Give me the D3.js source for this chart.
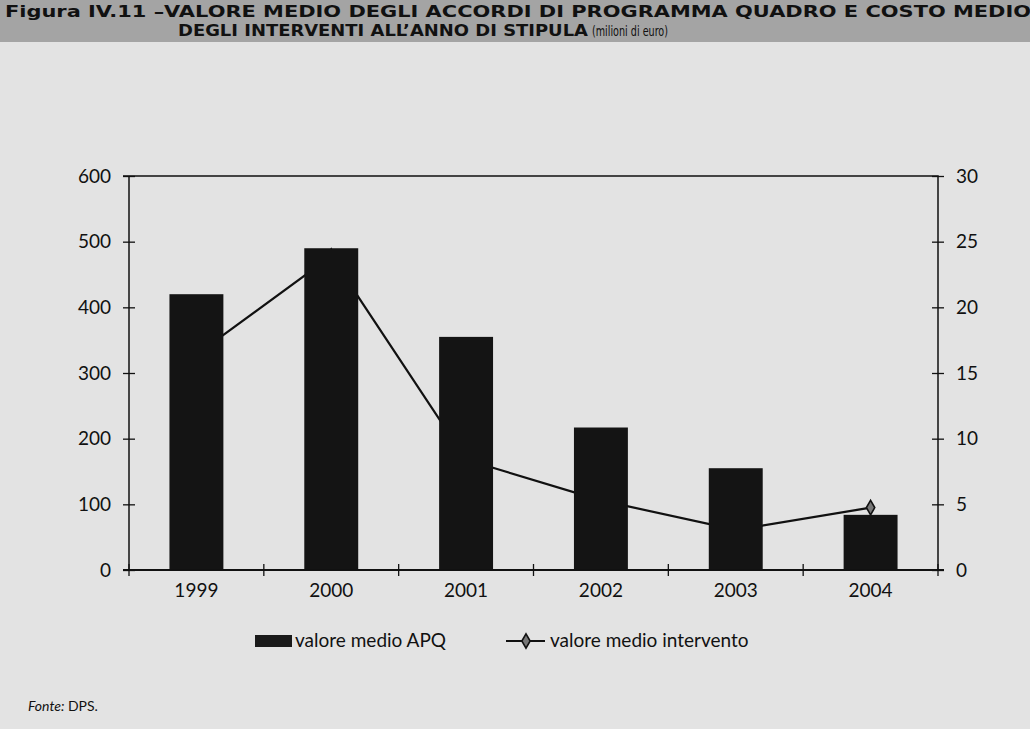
<!DOCTYPE html>
<html>
<head>
<meta charset="utf-8">
<script src="https://cdn.jsdelivr.net/npm/d3@7"></script>
<style>
  html, body { margin: 0; padding: 0; background: #e3e3e3; }
  svg { display: block; }
</style>
</head>
<body>
<svg id="chart" width="1030" height="729"></svg>
<script>
// Valore medio APQ (left axis, milioni di euro) and costo medio intervento (right axis)
const years = ["1999", "2000", "2001", "2002", "2003", "2004"];
const valoreMedioAPQ = [420, 490, 355, 217, 155, 84];
const valoreMedioIntervento = [16.4, 23.9, 8.4, 5.3, 3.05, 4.75];
const leftTicks = [0, 100, 200, 300, 400, 500, 600];
const rightTicks = [0, 5, 10, 15, 20, 25, 30];

const svg = d3.select("#chart");
const W = 1030, H = 729;
const m = { left: 129, right: 938, top: 176, bottom: 570 };
const font = "'Lato', 'Noto Sans', sans-serif";

// page background
svg.append("rect").attr("width", W).attr("height", H).attr("fill", "#e3e3e3");

// title banner
svg.append("rect").attr("x", 0).attr("y", 0).attr("width", W).attr("height", 42).attr("fill", "#a4a4a4");
svg.append("text")
  .attr("x", 5).attr("y", 17)
  .attr("font-family", "'DejaVu Sans', sans-serif").attr("font-weight", "bold")
  .attr("font-size", 15.5).attr("fill", "#111")
  .attr("textLength", 1026).attr("lengthAdjust", "spacingAndGlyphs")
  .text("Figura IV.11 –VALORE MEDIO DEGLI ACCORDI DI PROGRAMMA QUADRO E COSTO MEDIO");
const t2 = svg.append("text")
  .attr("x", 178).attr("y", 36)
  .attr("font-family", "'DejaVu Sans', sans-serif").attr("font-size", 15.5).attr("fill", "#111");
t2.append("tspan").attr("font-weight", "bold")
  .attr("textLength", 410).attr("lengthAdjust", "spacingAndGlyphs")
  .text("DEGLI INTERVENTI ALL’ANNO DI STIPULA");
t2.append("tspan").attr("dx", 4).attr("font-size", 13.5)
  .attr("textLength", 76).attr("lengthAdjust", "spacingAndGlyphs")
  .text("(milioni di euro)");

// scales
const x = d3.scaleBand().domain(years).range([m.left, m.right]).paddingInner(0.6).paddingOuter(0.3);
const xStep = d3.scaleBand().domain(years).range([m.left, m.right]);
const yL = d3.scaleLinear().domain([0, 600]).range([m.bottom, m.top]);
const yR = d3.scaleLinear().domain([0, 30]).range([m.bottom, m.top]);

// plot frame (top and right)
svg.append("path")
  .attr("d", `M${m.left - 6},${m.top}H${m.right}V${m.bottom}`)
  .attr("fill", "none").attr("stroke", "#111").attr("stroke-width", 1.5);

// line series (drawn beneath the bars)
const cx = d => xStep(d) + xStep.bandwidth() / 2;
const line = d3.line().x((d, i) => cx(years[i])).y(d => yR(d));
svg.append("path").datum(valoreMedioIntervento)
  .attr("d", line).attr("fill", "none").attr("stroke", "#111").attr("stroke-width", 2.2);
const diamond = d3.symbol().type(d3.symbolDiamond).size(60);
svg.selectAll(".mk").data(valoreMedioIntervento).join("path")
  .attr("transform", (d, i) => `translate(${cx(years[i])},${yR(d)})`)
  .attr("d", diamond).attr("fill", "#777").attr("stroke", "#111").attr("stroke-width", 1.6);

// bars
svg.selectAll(".bar").data(valoreMedioAPQ).join("rect")
  .attr("x", (d, i) => x(years[i]))
  .attr("y", d => yL(d))
  .attr("width", x.bandwidth())
  .attr("height", d => yL(0) - yL(d))
  .attr("fill", "#141414");

// left axis
const gL = svg.append("g").attr("transform", `translate(${m.left},0)`)
  .call(d3.axisLeft(yL).tickValues(leftTicks).tickSize(6).tickPadding(12));
gL.selectAll(".tick line").attr("x2", -6).attr("x1", 6);
// right axis
const gR = svg.append("g").attr("transform", `translate(${m.right},0)`)
  .call(d3.axisRight(yR).tickValues(rightTicks).tickSize(6).tickPadding(12));
gR.selectAll(".tick line").attr("x1", -6).attr("x2", 6);
[gL, gR].forEach(g => {
  g.select(".domain").remove();
  g.selectAll(".tick line").attr("stroke", "#111").attr("stroke-width", 1.3);
  g.selectAll("text").attr("font-family", font).attr("font-size", 19).attr("fill", "#111");
});
gL.append("line").attr("y1", m.top).attr("y2", m.bottom).attr("stroke", "#111").attr("stroke-width", 1.5);

// bottom axis
const gB = svg.append("g").attr("transform", `translate(0,${m.bottom})`)
  .call(d3.axisBottom(xStep).tickSize(0).tickPadding(14));
gB.select(".domain").remove();
gB.selectAll("text").attr("font-family", font).attr("font-size", 19).attr("fill", "#111");
gB.append("line").attr("x1", m.left - 6).attr("x2", m.right + 6)
  .attr("stroke", "#111").attr("stroke-width", 2.2);
const bounds = years.map(d => xStep(d)).concat([m.right]);
gB.selectAll(".sep").data(bounds).join("line")
  .attr("x1", d => d).attr("x2", d => d).attr("y1", -6).attr("y2", 6)
  .attr("stroke", "#111").attr("stroke-width", 1.3);

// legend
const lg = svg.append("g");
lg.append("rect").attr("x", 255).attr("y", 635).attr("width", 37).attr("height", 12).attr("fill", "#1a1a1a");
lg.append("text").attr("x", 295).attr("y", 647).attr("font-family", font).attr("font-size", 19)
  .attr("fill", "#111").text("valore medio APQ");
lg.append("line").attr("x1", 506).attr("x2", 545).attr("y1", 641).attr("y2", 641)
  .attr("stroke", "#111").attr("stroke-width", 2.2);
lg.append("path").attr("transform", "translate(526,641)").attr("d", diamond)
  .attr("fill", "#777").attr("stroke", "#111").attr("stroke-width", 1.6);
lg.append("text").attr("x", 550).attr("y", 647).attr("font-family", font).attr("font-size", 19)
  .attr("fill", "#111").text("valore medio intervento");

// source note
const src = svg.append("text").attr("x", 28).attr("y", 711)
  .attr("font-family", font).attr("font-size", 14).attr("fill", "#111");
src.append("tspan").attr("font-style", "italic").text("Fonte:");
src.append("tspan").text(" DPS.");
</script>
</body>
</html>
